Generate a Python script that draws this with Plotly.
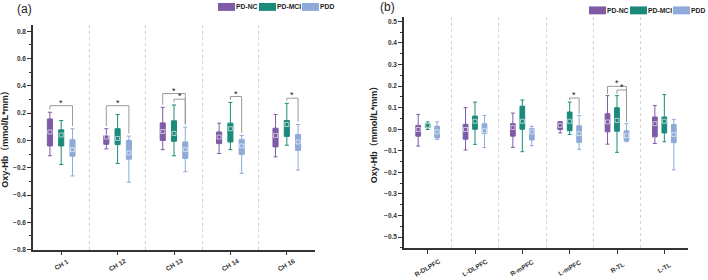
import plotly.graph_objects as go

# ---------------- data ----------------
groups = ["PD-NC", "PD-MCI", "PDD"]
colors = ["#7D5BA6", "#1B8A7B", "#8EAAD8"]

cats_a = ["CH 1", "CH 12", "CH 13", "CH 14", "CH 16"]
# per group: lower whisker, q1, mean, q3, upper whisker
a_low = [[-0.112, -0.062, -0.067, -0.096, -0.120],
         [-0.176, -0.168, -0.112, -0.067, -0.035],
         [-0.260, -0.306, -0.229, -0.241, -0.217]]
a_q1 = [[-0.040, -0.028, 0.000, -0.023, -0.047],
        [-0.040, -0.030, -0.006, -0.011, 0.030],
        [-0.115, -0.137, -0.132, -0.103, -0.072]]
a_mean = [[0.062, 0.025, 0.066, 0.025, 0.037],
          [0.040, 0.015, 0.052, 0.086, 0.117],
          [-0.067, -0.091, -0.067, -0.040, -0.011]]
a_q3 = [[0.158, 0.035, 0.129, 0.062, 0.090],
        [0.078, 0.086, 0.144, 0.127, 0.146],
        [0.006, 0.000, -0.011, 0.008, 0.044]]
a_high = [[0.207, 0.086, 0.243, 0.127, 0.190],
          [0.146, 0.190, 0.260, 0.279, 0.272],
          [0.086, 0.032, 0.098, 0.037, 0.117]]

cats_b = ["R-DLPFC", "L-DLPFC", "R-mPFC", "L-mPFC", "R-TL", "L-TL"]
b_low = [[-0.078, -0.096, -0.084, -0.017, -0.069, -0.066],
         [-0.001, -0.070, -0.104, -0.024, -0.107, -0.058],
         [-0.047, -0.085, -0.076, -0.093, -0.058, -0.188]]
b_q1 = [[-0.032, -0.046, -0.032, -0.001, -0.012, -0.035],
        [0.008, 0.000, 0.000, -0.007, -0.009, -0.017],
        [-0.040, -0.020, -0.050, -0.061, -0.053, -0.062]]
b_mean = [[-0.001, -0.001, 0.008, 0.018, 0.034, 0.026],
          [0.018, 0.037, 0.037, 0.037, 0.041, 0.037],
          [-0.012, -0.007, -0.012, -0.020, -0.030, -0.024]]
b_q3 = [[0.018, 0.023, 0.026, 0.034, 0.072, 0.057],
        [0.026, 0.061, 0.107, 0.080, 0.100, 0.057],
        [0.014, 0.026, 0.003, 0.016, -0.007, 0.022]]
b_high = [[0.069, 0.100, 0.075, 0.036, 0.156, 0.110],
          [0.034, 0.126, 0.136, 0.126, 0.156, 0.161],
          [0.034, 0.064, 0.014, 0.064, 0.026, 0.046]]

# significance brackets: (category index, group i, group j, bracket level)
sig_a = [(0, 0, 2, 0.255), (1, 0, 2, 0.255), (2, 0, 2, 0.344), (2, 1, 2, 0.303),
         (3, 1, 2, 0.322), (4, 1, 2, 0.310)]
sig_b = [(3, 1, 2, 0.145), (4, 0, 2, 0.199), (4, 1, 2, 0.182)]

ytitle = "Oxy-Hb（mmol/L*mm）"

# ---------------- styling ----------------
OFFS = [-0.2, 0.0, 0.2]
FONT = "Liberation Sans, Arial, Noto Sans CJK SC, sans-serif"
AXC = "#333333"

fig = go.Figure()


def add_panel(xa, ya, cats, low, q1, mean, q3, high, width):
    n = len(cats)
    for g in range(3):
        xs = [i + OFFS[g] for i in range(n)]
        fig.add_trace(go.Box(
            x=xs, q1=q1[g], median=mean[g], q3=q3[g],
            lowerfence=low[g], upperfence=high[g],
            width=width, whiskerwidth=0.8,
            fillcolor=colors[g], line=dict(color=colors[g], width=1),
            xaxis=xa, yaxis=ya, showlegend=False, hoverinfo="skip",
            name=groups[g]))
        fig.add_trace(go.Scatter(
            x=xs, y=mean[g], mode="markers",
            marker=dict(symbol="square-open", size=4,
                        color="rgba(255,255,255,0.6)",
                        line=dict(width=1, color="rgba(255,255,255,0.6)")),
            xaxis=xa, yaxis=ya, showlegend=False, hoverinfo="skip"))


add_panel("x", "y", cats_a, a_low, a_q1, a_mean, a_q3, a_high, 0.09)
add_panel("x2", "y2", cats_b, b_low, b_q1, b_mean, b_q3, b_high, 0.10)

shapes = []
annotations = []


def add_sig(sigs, xr, yr, high, gap, star_shift):
    for (c, gi, gj, lvl) in sigs:
        x0 = c + OFFS[gi]
        x1 = c + OFFS[gj]
        y0 = high[gi][c] + gap
        y1 = high[gj][c] + gap
        shapes.append(dict(type="path", xref=xr, yref=yr,
                           path=f"M {x0},{y0} L {x0},{lvl} L {x1},{lvl} L {x1},{y1}",
                           line=dict(color="#9a9a9a", width=1)))
        annotations.append(dict(x=(x0 + x1) / 2, y=lvl, xref=xr, yref=yr,
                                text="*", showarrow=False, yanchor="middle",
                                yshift=star_shift,
                                font=dict(size=9, color="#222", family=FONT)))


add_sig(sig_a, "x", "y", a_high, 0.02, 3)
add_sig(sig_b, "x2", "y2", b_high, 0.008, 3)

# rotated category labels centered under each tick
for i, c in enumerate(cats_a):
    annotations.append(dict(x=i, y=1 - 267.5 / 280, xref="x", yref="paper",
                            text=f"<b>{c}</b>", showarrow=False, textangle=-30,
                            xanchor="center", yanchor="middle",
                            font=dict(size=6.5, color=AXC, family=FONT)))
for i, c in enumerate(cats_b):
    annotations.append(dict(x=i, y=1 - 270.5 / 280, xref="x2", yref="paper",
                            text=f"<b>{c}</b>", showarrow=False, textangle=-30,
                            xanchor="center", yanchor="middle",
                            font=dict(size=6.5, color=AXC, family=FONT)))

# panel labels
annotations.append(dict(x=15 / 708, y=1 - 9 / 280, xref="paper", yref="paper",
                        text="(a)", showarrow=False, xanchor="left", yanchor="middle",
                        font=dict(size=12, color="#222", family=FONT)))
annotations.append(dict(x=378 / 708, y=1 - 7 / 280, xref="paper", yref="paper",
                        text="(b)", showarrow=False, xanchor="left", yanchor="middle",
                        font=dict(size=12, color="#222", family=FONT)))

# legends (swatch + label)
def add_legend(x_starts, yc):
    for g in range(3):
        xs = x_starts[g]
        shapes.append(dict(type="rect", xref="paper", yref="paper",
                           x0=xs / 708, x1=(xs + 17) / 708,
                           y0=1 - (yc + 4) / 280, y1=1 - (yc - 4) / 280,
                           fillcolor=colors[g], line=dict(width=0)))
        annotations.append(dict(x=(xs + 17) / 708, y=1 - yc / 280,
                                xref="paper", yref="paper",
                                text=f"<b>{groups[g]}</b>", showarrow=False,
                                xanchor="left", yanchor="middle", xshift=-1,
                                font=dict(size=6.8, color="#222", family=FONT)))


add_legend([218, 259, 302], 7)
add_legend([589, 630, 673], 10.5)

xcommon = dict(showline=True, linecolor=AXC, linewidth=1.5, ticks="outside",
               ticklen=4, tickcolor=AXC, showticklabels=False, showgrid=False,
               zeroline=False)
ycommon = dict(showline=True, linecolor=AXC, linewidth=1.5, ticks="outside",
               ticklen=4, tickcolor=AXC, showgrid=False, zeroline=False,
               tickformat=".1f",
               tickfont=dict(size=6.5, color=AXC, family=FONT, weight="bold"),
               title=dict(text=ytitle, standoff=5,
                          font=dict(size=9, color="#222", family=FONT, weight="bold")))

gridminor = dict(showgrid=True, gridcolor="#d2d2d2", griddash="dot",
                 gridwidth=0.8, ticks="")

fig.update_layout(
    width=708, height=280, margin=dict(l=0, r=0, t=0, b=0),
    paper_bgcolor="white", plot_bgcolor="white", boxmode="overlay",
    showlegend=False,
    xaxis=dict(domain=[33 / 708, 315 / 708], range=[-0.5, 4.5],
               tickmode="array", tickvals=list(range(len(cats_a))),
               minor=dict(tickmode="array",
                          tickvals=[i + 0.5 for i in range(len(cats_a))],
                          **gridminor),
               anchor="y", **xcommon),
    yaxis=dict(domain=[1 - 252.3 / 280, 1 - 24.8 / 280], range=[-0.8, 0.85],
               tick0=0, dtick=0.2,
               minor=dict(dtick=0.1, tick0=0, ticks="outside", ticklen=2,
                          tickcolor=AXC, showgrid=False),
               anchor="x", **ycommon),
    xaxis2=dict(domain=[404 / 708, 688 / 708], range=[-0.5, 5.5],
                tickmode="array", tickvals=list(range(len(cats_b))),
                minor=dict(tickmode="array",
                           tickvals=[i + 0.5 for i in range(len(cats_b))],
                           **gridminor),
                anchor="y2", **xcommon),
    yaxis2=dict(domain=[1 - 250.6 / 280, 1 - 17.3 / 280], range=[-0.55, 0.52],
                tick0=0, dtick=0.1,
                minor=dict(dtick=0.05, tick0=0, ticks="outside", ticklen=2,
                           tickcolor=AXC, showgrid=False),
                anchor="x2", **ycommon),
    shapes=shapes, annotations=annotations,
)

fig.write_html("out.html")
